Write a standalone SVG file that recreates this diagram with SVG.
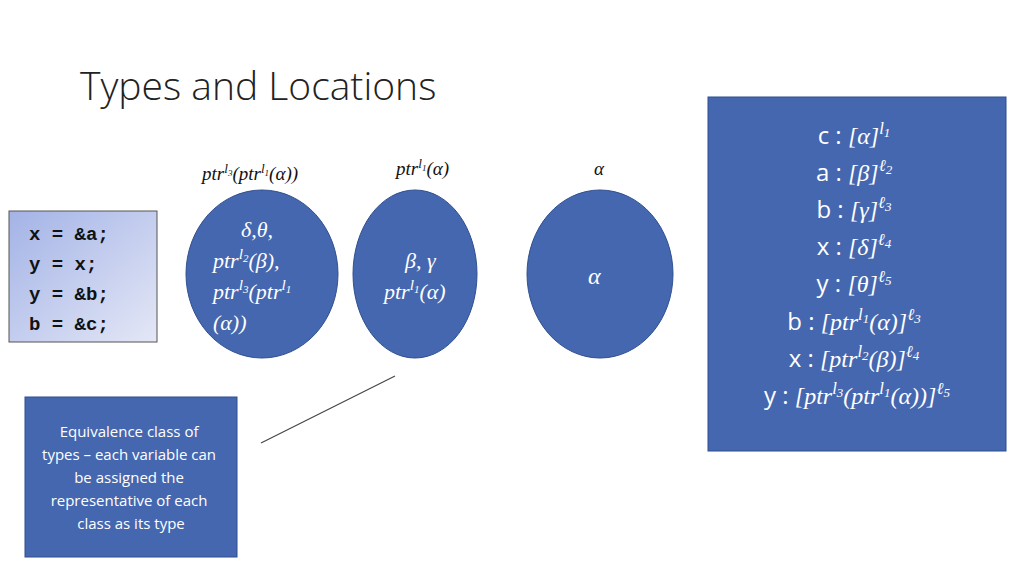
<svg xmlns="http://www.w3.org/2000/svg" width="1024" height="576" viewBox="0 0 1024 576">
<style>
.m{font-family:"Liberation Serif",serif;font-style:italic}
.w{fill:#fff}
.s{font-size:70%}
.u{font-family:"Open Sans","Liberation Sans",sans-serif;font-style:normal}
.blue{fill:#4567b0;stroke:#2f4f8f;stroke-width:1}
</style>
<defs>
<linearGradient id="g" x1="0" y1="0" x2="1" y2="1">
<stop offset="0" stop-color="#a3b3e6"/><stop offset="1" stop-color="#e4e7f6"/>
</linearGradient>
</defs>
<rect width="1024" height="576" fill="#fff"/>
<text x="80" y="100" font-family="Open Sans, Liberation Sans, sans-serif" font-weight="300" font-size="39" fill="#222">Types and Locations</text>

<g id="code">
<rect x="9" y="211" width="148" height="131" fill="url(#g)" stroke="#555" stroke-width="1"/>
<text font-family="Liberation Mono, monospace" font-weight="bold" font-size="19" fill="#111">
<tspan x="29" y="240">x = &amp;a;</tspan><tspan x="29" y="270">y = x;</tspan><tspan x="29" y="300">y = &amp;b;</tspan><tspan x="29" y="330">b = &amp;c;</tspan></text>
</g>

<g id="labels" class="m" font-size="19" fill="#111">
<text x="202" y="180">ptr<tspan class="s" dy="-7">l</tspan><tspan font-size="9" dy="3">3</tspan><tspan dy="4">(ptr</tspan><tspan class="s" dy="-7">l</tspan><tspan font-size="9" dy="3">1</tspan><tspan dy="4">(α))</tspan></text>
<text x="396" y="175">ptr<tspan class="s" dy="-7">l</tspan><tspan font-size="9" dy="3">1</tspan><tspan dy="4">(α)</tspan></text>
<text x="594" y="175">α</text>
</g>

<g id="class1">
<ellipse class="blue" cx="262" cy="274" rx="76" ry="84"/>
<text class="m w" font-size="22" fill="#fff">
<tspan x="241" y="237">δ,θ,</tspan>
<tspan x="213" y="268">ptr</tspan><tspan class="s" dy="-9">l</tspan><tspan font-size="11" dy="3">2</tspan><tspan dy="6">(β),</tspan>
<tspan x="213" y="299">ptr</tspan><tspan class="s" dy="-9">l</tspan><tspan font-size="11" dy="3">3</tspan><tspan dy="6">(ptr</tspan><tspan class="s" dy="-9">l</tspan><tspan font-size="11" dy="3">1</tspan>
<tspan x="213" y="330">(α))</tspan></text>
</g>
<g id="class2">
<ellipse class="blue" cx="415" cy="274" rx="62" ry="84"/>
<text class="m" font-size="22" fill="#fff">
<tspan x="405" y="268">β, γ</tspan>
<tspan x="384" y="299">ptr</tspan><tspan class="s" dy="-9">l</tspan><tspan font-size="11" dy="3">1</tspan><tspan dy="6">(α)</tspan></text>
</g>
<g id="class3">
<ellipse class="blue" cx="600" cy="274" rx="73" ry="84"/>
<text class="m" x="588" y="284" font-size="24" fill="#fff">α</text>
</g>

<g id="env">
<rect class="blue" x="708" y="97" width="298" height="354"/>
<text class="m" font-size="24" fill="#fff" text-anchor="middle">
<tspan x="857" y="144"><tspan class="u">c : </tspan>[α]<tspan class="s" dy="-10">l</tspan><tspan font-size="13" dy="3">1</tspan></tspan>
<tspan x="857" y="181"><tspan class="u">a : </tspan>[β]<tspan class="s" dy="-10">ℓ</tspan><tspan font-size="13" dy="3">2</tspan></tspan>
<tspan x="857" y="218"><tspan class="u">b : </tspan>[γ]<tspan class="s" dy="-10">ℓ</tspan><tspan font-size="13" dy="3">3</tspan></tspan>
<tspan x="857" y="255"><tspan class="u">x : </tspan>[δ]<tspan class="s" dy="-10">ℓ</tspan><tspan font-size="13" dy="3">4</tspan></tspan>
<tspan x="857" y="292"><tspan class="u">y : </tspan>[θ]<tspan class="s" dy="-10">ℓ</tspan><tspan font-size="13" dy="3">5</tspan></tspan>
<tspan x="857" y="330"><tspan class="u">b : </tspan>[ptr<tspan class="s" dy="-10">l</tspan><tspan font-size="13" dy="3">1</tspan><tspan dy="7">(α)]</tspan><tspan class="s" dy="-10">ℓ</tspan><tspan font-size="13" dy="3">3</tspan></tspan>
<tspan x="857" y="367"><tspan class="u">x : </tspan>[ptr<tspan class="s" dy="-10">l</tspan><tspan font-size="13" dy="3">2</tspan><tspan dy="7">(β)]</tspan><tspan class="s" dy="-10">ℓ</tspan><tspan font-size="13" dy="3">4</tspan></tspan>
<tspan x="857" y="404"><tspan class="u">y : </tspan>[ptr<tspan class="s" dy="-10">l</tspan><tspan font-size="13" dy="3">3</tspan><tspan dy="7">(ptr</tspan><tspan class="s" dy="-10">l</tspan><tspan font-size="13" dy="3">1</tspan><tspan dy="7">(α))]</tspan><tspan class="s" dy="-10">ℓ</tspan><tspan font-size="13" dy="3">5</tspan></tspan>
</text>
</g>

<g id="note">
<rect class="blue" x="25" y="397" width="212" height="160"/>
<text font-family="Open Sans, Liberation Sans, sans-serif" font-size="15" fill="#fff" text-anchor="middle">
<tspan x="131" y="437">Equivalence class of</tspan>
<tspan x="131" y="460">types – each variable can</tspan>
<tspan x="131" y="483">be assigned the</tspan>
<tspan x="131" y="506">representative of each</tspan>
<tspan x="131" y="529">class as its type</tspan></text>
</g>

<g id="connectors">
<line x1="261" y1="443" x2="395" y2="376" stroke="#444" stroke-width="1.2"/>
</g>
</svg>
